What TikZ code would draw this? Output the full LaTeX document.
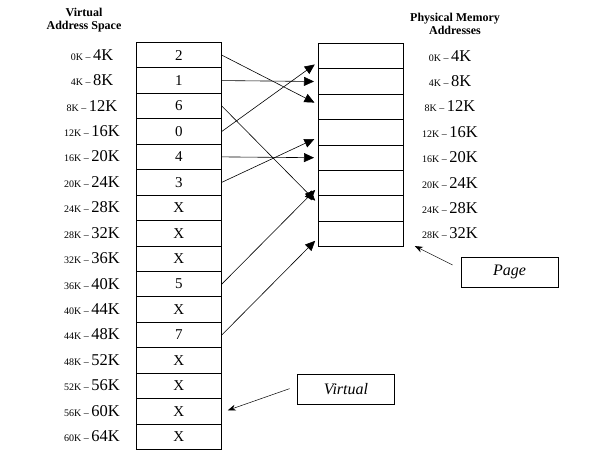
\documentclass[tikz,border=0pt]{standalone}
\usepackage{fontspec}
\setmainfont{Liberation Serif}
\usetikzlibrary{arrows.meta}
\newcommand{\addr}[2]{{\fontsize{10}{10}\selectfont #1K -- }{\fontsize{16.5}{16}\selectfont #2K}}

\tikzset{
    cell/.style={
        draw,
        line width=0.8pt,
        minimum width=85pt,
        minimum height=25.44pt,
        inner sep=0pt,
        anchor=north west,
        font=\fontsize{15}{15}\selectfont
    },
    addrlabel/.style={inner sep=0pt},
    headlabel/.style={align=center, inner sep=0pt, font=\fontsize{12}{13}\selectfont\bfseries},
    notebox/.style={
        draw,
        line width=0.8pt,
        minimum width=97pt,
        minimum height=30pt,
        font=\fontsize{16}{16}\selectfont\itshape
    },
    maparrow/.style={-{Triangle[length=10pt,width=9pt]}, line width=0.6pt, shorten >=4pt},
    notearrow/.style={-{Stealth[length=8pt,width=6pt]}, line width=0.5pt}
}

\begin{document}
\begin{tikzpicture}[x=1pt,y=-1pt]
    \useasboundingbox (0,0) rectangle (593,475);

    % headers
    \node[headlabel] (vhead) at (84,20.5) {Virtual\\Address Space};
    \node[headlabel] (phead) at (455,23.5) {Physical Memory\\Addresses};

    % virtual address space
    \foreach \v [count=\i from 0] in {2,1,6,0,4,3,X,X,X,5,X,7,X,X,X,X} {
        \node[cell] (v\i) at (136,42+\i*25.44) {\v};
        \pgfmathtruncatemacro{\lo}{4*\i}
        \pgfmathtruncatemacro{\hi}{4*\i+4}
        \node[addrlabel] (va\i) at (92,42+\i*25.44+12.72) {\addr{\lo}{\hi}};
    }

    % physical memory
    \foreach \i in {0,...,7} {
        \node[cell] (p\i) at (318,43+\i*25.4) {};
        \pgfmathtruncatemacro{\lo}{4*\i}
        \pgfmathtruncatemacro{\hi}{4*\i+4}
        \node[addrlabel] (pa\i) at (450,43+\i*25.4+12.7) {\addr{\lo}{\hi}};
    }

    % page mappings
    \draw[maparrow] (v0.east) -- ([yshift=2.5pt]p2.west);
    \draw[maparrow] (v1.east) -- (p1.west);
    \draw[maparrow] (v2.east) -- ([yshift=5pt]p6.west);
    \draw[maparrow] (v3.east) -- ([yshift=-6pt]p0.west);
    \draw[maparrow] (v4.east) -- (p4.west);
    \draw[maparrow] (v5.east) -- ([yshift=-5pt]p3.west);
    \draw[maparrow] (v9.east) -- ([yshift=-4pt]p5.west);
    \draw[maparrow] (v11.east) -- ([yshift=-4pt]p7.west);

    % notes
    \node[notebox] (pagebox) at (509.5,272) {Page};
    \node[notebox] (virtbox) at (346,389) {Virtual};
    \coordinate (pagetip) at ([xshift=11pt,yshift=1pt]p7.south east);
    \coordinate (virttip) at ([xshift=6pt,yshift=1pt]v14.east);
    \draw[notearrow, shorten <=9pt] ([yshift=3pt]pagebox.west) -- (pagetip);
    \draw[notearrow, shorten <=8pt] ([yshift=3pt]virtbox.west) -- (virttip);
\end{tikzpicture}
\end{document}
